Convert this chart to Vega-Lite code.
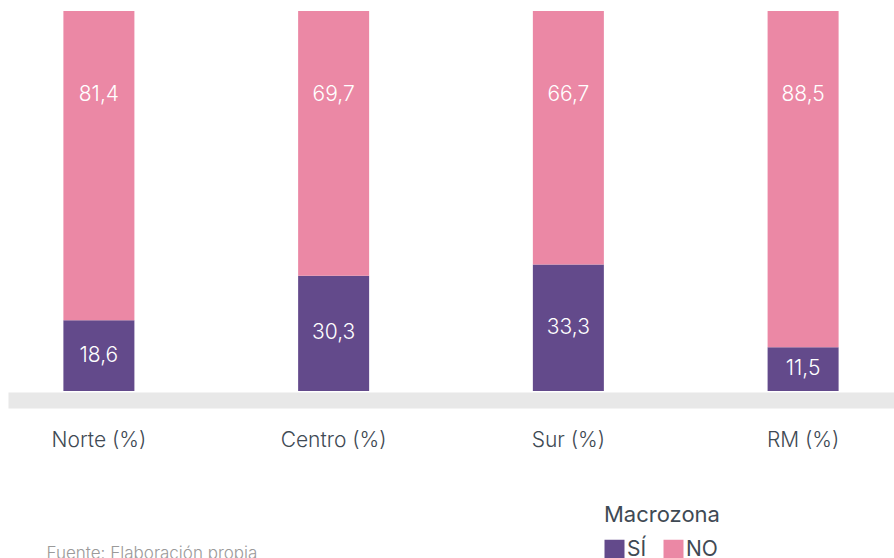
{
  "$schema": "https://vega.github.io/schema/vega-lite/v6.json",
  "width": 886,
  "height": 380,
  "autosize": {"type": "none"},
  "padding": {"left": 8, "top": 11, "right": 0, "bottom": 167},
  "background": "white",
  "config": {
    "view": {"stroke": null},
    "font": "Inter",
    "locale": {"number": {"decimal": ",", "thousands": ".", "grouping": [3], "currency": ["", ""]}}
  },
  "data": {
    "values": [
      {"zona": "Norte (%)", "serie": "SÍ", "valor": 18.6},
      {"zona": "Norte (%)", "serie": "NO", "valor": 81.4},
      {"zona": "Centro (%)", "serie": "SÍ", "valor": 30.3},
      {"zona": "Centro (%)", "serie": "NO", "valor": 69.7},
      {"zona": "Sur (%)", "serie": "SÍ", "valor": 33.3},
      {"zona": "Sur (%)", "serie": "NO", "valor": 66.7},
      {"zona": "RM (%)", "serie": "SÍ", "valor": 11.5},
      {"zona": "RM (%)", "serie": "NO", "valor": 88.5}
    ]
  },
  "encoding": {
    "x": {
      "field": "zona",
      "type": "nominal",
      "sort": ["Norte (%)", "Centro (%)", "Sur (%)", "RM (%)"],
      "scale": {"paddingInner": 0.6975, "paddingOuter": 0.236},
      "axis": {
        "labelAngle": 0,
        "labelFontSize": 21,
        "labelFontWeight": 300,
        "labelColor": "#3f4a54",
        "labelPadding": 29,
        "ticks": false,
        "offset": 9,
        "domainWidth": 16,
        "domainColor": "#e8e8e8",
        "title": "Fuente: Elaboración propia",
        "titleFontSize": 17,
        "titleFontWeight": 300,
        "titleColor": "#9a9a9a",
        "titleAnchor": "start",
        "titleAlign": "left",
        "titleBaseline": "alphabetic",
        "titleX": 38,
        "titleY": 158
      }
    }
  },
  "layer": [
    {
      "mark": {"type": "bar"},
      "encoding": {
        "y": {"field": "valor", "type": "quantitative", "stack": "zero", "scale": {"domain": [0, 100]}, "axis": null},
        "color": {
          "field": "serie",
          "type": "nominal",
          "scale": {"domain": ["SÍ", "NO"], "range": ["#634a8b", "#eb88a5"]},
          "legend": {
            "title": "Macrozona",
            "orient": "none",
            "legendX": 596,
            "legendY": 494,
            "direction": "horizontal",
            "titleFontSize": 22,
            "titleFontWeight": 400,
            "titleColor": "#3f4a54",
            "titlePadding": 12,
            "symbolType": "square",
            "symbolSize": 400,
            "symbolStrokeWidth": 0,
            "symbolOpacity": 1,
            "labelFontSize": 21,
            "labelColor": "#3f4a54",
            "labelOffset": 2,
            "columnPadding": 16
          }
        },
        "order": {"field": "serie", "sort": "descending"}
      }
    },
    {
      "transform": [{"filter": "datum.serie === 'SÍ'"}],
      "mark": {"type": "text", "color": "white", "fontSize": 21, "fontWeight": 300, "baseline": "middle"},
      "encoding": {
        "y": {"field": "valor", "type": "quantitative", "scale": {"domain": [0, 200]}, "axis": null},
        "text": {"field": "valor", "type": "quantitative", "format": ".1f"}
      }
    },
    {
      "transform": [{"filter": "datum.serie === 'NO'"}],
      "mark": {"type": "text", "color": "white", "fontSize": 21, "fontWeight": 300, "baseline": "middle"},
      "encoding": {
        "y": {"datum": 78, "type": "quantitative", "scale": {"domain": [0, 100]}, "axis": null},
        "text": {"field": "valor", "type": "quantitative", "format": ".1f"}
      }
    }
  ],
  "resolve": {"scale": {"y": "independent"}}
}
